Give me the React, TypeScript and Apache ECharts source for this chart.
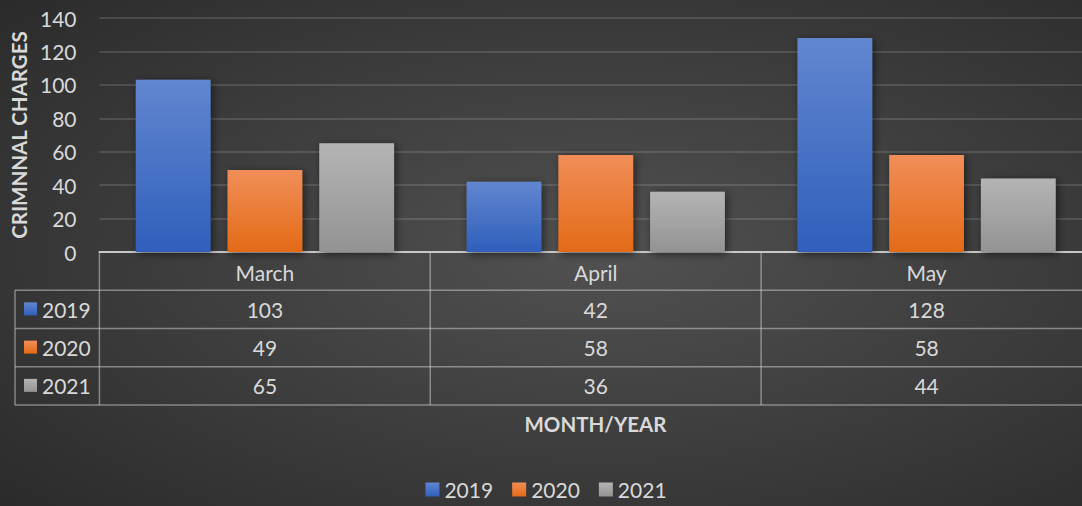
import React, { useEffect, useRef } from "react";
import * as echarts from "echarts";

const months = ["March", "April", "May"];
const years = ["2019", "2020", "2021"];
const values2019 = [103, 42, 128];
const values2020 = [49, 58, 58];
const values2021 = [65, 36, 44];
const seriesValues = [values2019, values2020, values2021];
const yAxisTitle = "CRIMNNAL CHARGES";
const xAxisTitle = "MONTH/YEAR";

const FONT = "Lato, 'Open Sans', sans-serif";
const TEXT = "#d9d9d9";
const LINE = "rgba(200,200,200,0.55)";

const colorStops = [
  ["#6286d0", "#2f5fbb"],
  ["#f18e58", "#e36a17"],
  ["#b4b4b4", "#939393"],
];

const grad = (i: number) =>
  new echarts.graphic.LinearGradient(0, 0, 0, 1, [
    { offset: 0, color: colorStops[i][0] },
    { offset: 1, color: colorStops[i][1] },
  ]);

export default function App() {
  const ref = useRef<HTMLDivElement>(null);
  useEffect(() => {
    if (!ref.current) return;
    const chart = echarts.init(ref.current, null, { renderer: "svg" });
    const gridLeft = 99;
    const gridTop = 18;
    const gridH = 234;
    const gridW = 993;
    chart.setOption({
      animation: false,
      backgroundColor: new echarts.graphic.RadialGradient(0.55, 0.5, 0.8, [
        { offset: 0, color: "#515151" },
        { offset: 1, color: "#282828" },
      ]),
      textStyle: { fontFamily: FONT },
      grid: { left: gridLeft, top: gridTop, width: gridW, height: gridH, containLabel: false },
      legend: {
        bottom: 1,
        left: "center",
        itemWidth: 14,
        itemHeight: 14,
        itemGap: 19,
        icon: "rect",
        textStyle: { color: TEXT, fontSize: 21, fontFamily: FONT },
        data: years,
      },
      xAxis: {
        type: "category",
        data: months,
        axisLine: { show: true, lineStyle: { color: "#c8c8c8", width: 2 } },
        axisTick: { show: false },
        axisLabel: { color: TEXT, fontSize: 21, margin: 10, fontFamily: FONT },
        splitLine: { show: false },
      },
      yAxis: {
        type: "value",
        min: 0,
        max: 140,
        interval: 20,
        name: yAxisTitle,
        nameLocation: "middle",
        nameGap: 81,
        nameRotate: 90,
        nameTextStyle: { color: TEXT, fontSize: 20.5, fontWeight: "bold", fontFamily: FONT, verticalAlign: "middle" },
        axisLine: { show: false },
        axisTick: { show: false },
        axisLabel: { color: TEXT, fontSize: 21, margin: 23, fontFamily: FONT },
        splitLine: { lineStyle: { color: "rgba(255,255,255,0.13)", width: 2 } },
      },
      series: years.map((y, i) => ({
        name: y,
        type: "bar",
        data: seriesValues[i],
        barWidth: "22.6%",
        barGap: "22.7%",
        itemStyle: {
          color: grad(i),
          shadowBlur: 8,
          shadowColor: "rgba(0,0,0,0.55)",
          shadowOffsetX: 2,
          shadowOffsetY: 2,
        },
      })),
    });

    // Data table below the axis
    const rowH = 38.25;
    const axisY = gridTop + gridH;
    const rightX = gridLeft + gridW;
    const tableLeft = 15;
    const catW = gridW / months.length;
    const g: any[] = [];
    for (let r = 1; r <= years.length + 1; r++) {
      const y = axisY + r * rowH;
      g.push({ type: "line", shape: { x1: tableLeft, y1: y, x2: rightX, y2: y }, style: { stroke: LINE, lineWidth: 1.5 }, silent: true });
    }
    g.push({ type: "line", shape: { x1: tableLeft, y1: axisY + rowH, x2: tableLeft, y2: axisY + rowH * 4 }, style: { stroke: LINE, lineWidth: 1.5 } });
    months.forEach((m) => {
      const x = chart.convertToPixel({ xAxisIndex: 0 }, m) - catW / 2;
      g.push({ type: "line", shape: { x1: x, y1: axisY, x2: x, y2: axisY + rowH * 4 }, style: { stroke: LINE, lineWidth: 1.5 } });
    });
    years.forEach((y, r) => {
      const cy = axisY + (r + 1.5) * rowH;
      g.push({ type: "rect", shape: { x: 24, y: cy - 7, width: 13, height: 13 }, style: { fill: grad(r) } });
      g.push({ type: "text", x: 42, y: cy, style: { text: y, fill: TEXT, fontSize: 21, fontFamily: FONT, verticalAlign: "middle", align: "left" } });
      months.forEach((m, c) => {
        const cx = chart.convertToPixel({ xAxisIndex: 0 }, m);
        g.push({ type: "text", x: cx, y: cy, style: { text: String(seriesValues[r][c]), fill: TEXT, fontSize: 21, fontFamily: FONT, verticalAlign: "middle", align: "center" } });
      });
    });
    g.push({ type: "text", x: gridLeft + gridW / 2, y: 424, style: { text: xAxisTitle, fill: TEXT, fontSize: 20.5, fontWeight: "bold", fontFamily: FONT, verticalAlign: "middle", align: "center" } });
    chart.setOption({ graphic: g });

    return () => chart.dispose();
  }, []);
  return (
    <div style={{ position: "absolute", left: 0, top: 0, width: 1082, height: 506, overflow: "hidden" }}>
      <div ref={ref} style={{ width: 1092, height: 506 }} />
    </div>
  );
}
